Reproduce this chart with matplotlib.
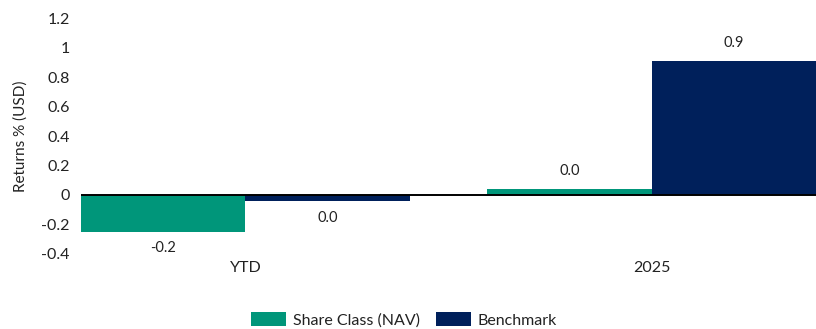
import matplotlib
matplotlib.use("Agg")
import matplotlib.pyplot as plt
from matplotlib.ticker import FuncFormatter
import numpy as np

categories = ["YTD", "2025"]
share_class = [-0.25, 0.04]
benchmark = [-0.04, 0.91]
series_names = ["Share Class (NAV)", "Benchmark"]
colors = ["#00967A", "#00205B"]

plt.rcParams["font.family"] = ["Lato", "DejaVu Sans"]
plt.rcParams["font.size"] = 11
text_color = "#222222"

fig = plt.figure(figsize=(8.16, 3.29), dpi=100)
ax = fig.add_axes([0.0993, 0.2286, 0.9007, 0.7149])

x = np.arange(len(categories))
width = 0.405
bars1 = ax.bar(x - width / 2, share_class, width, color=colors[0], label=series_names[0], zorder=2)
bars2 = ax.bar(x + width / 2, benchmark, width, color=colors[1], label=series_names[1], zorder=2)

# value labels, one decimal, outside the bar end
for bars, vals in [(bars1, share_class), (bars2, benchmark)]:
    for b, v in zip(bars, vals):
        txt = f"{round(v, 1) + 0.0:.1f}"
        cx = b.get_x() + b.get_width() / 2
        dy = 13 if v >= 0 else -12
        ax.annotate(txt, (cx, v), xytext=(0, dy), textcoords="offset points",
                    ha="center", va="center", color=text_color, fontsize=10.5)

ax.axhline(0, color="black", lw=1.4, zorder=3)

ax.set_xlim(-width, len(categories) - 1 + width)
ax.set_ylim(-0.4, 1.2)
ax.set_yticks(np.arange(-0.4, 1.21, 0.2))
ax.yaxis.set_major_formatter(FuncFormatter(lambda v, p: f"{round(v, 1) + 0.0:g}"))
ax.set_xticks(x)
ax.set_xticklabels(categories)
ax.tick_params(axis="both", length=0, colors=text_color, labelsize=11.5)
ax.tick_params(axis="y", pad=8)
ax.tick_params(axis="x", pad=5)
for s in ax.spines.values():
    s.set_visible(False)

ax.set_ylabel("Returns % (USD)", color=text_color, fontsize=11)
ax.yaxis.set_label_coords(-0.073, 0.5)

fig.legend(loc="lower center", bbox_to_anchor=(0.495, -0.04), ncol=2, frameon=False,
           handlelength=2.2, handleheight=0.95, handletextpad=0.4, columnspacing=1.0,
           fontsize=11.5, labelcolor=text_color)

fig.savefig("out.png", dpi=100)
